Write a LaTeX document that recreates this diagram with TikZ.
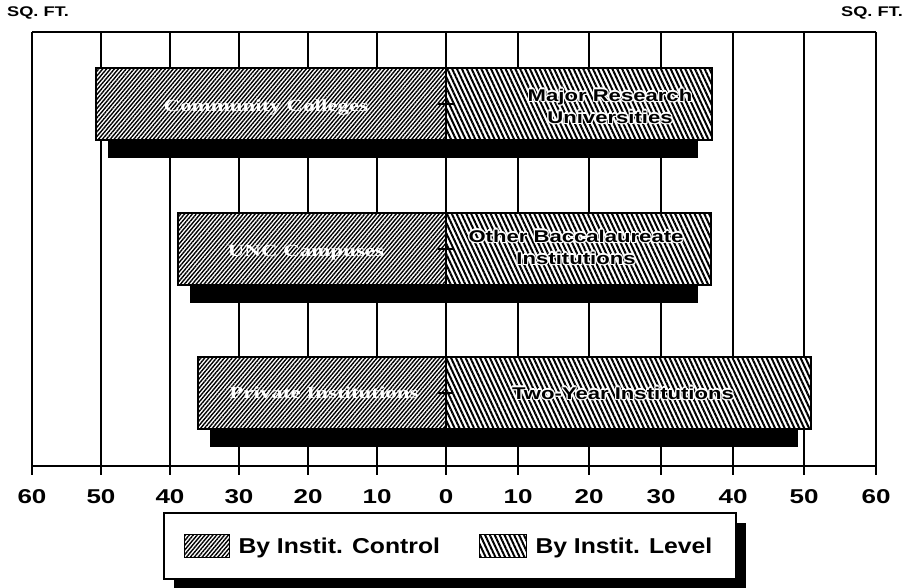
\documentclass[tikz,border=0pt]{standalone}
\usepackage{fontspec}
\usepackage{pdfrender}
\setmainfont{Liberation Sans}
\newfontfamily\axisfont{Liberation Sans}[FakeStretch=1.3]
\newfontfamily\keyfont{Liberation Sans}[FakeStretch=1.15]
\newfontfamily\campusfont{Liberation Serif}[FakeStretch=1.35]
\usetikzlibrary{patterns.meta}

% white letters with a black edge
\newcommand{\edgedtext}[1]{{\color{white}\textpdfrender{TextRenderingMode=FillStroke,
  LineWidth=0.8pt,StrokeColor=black,LineJoinStyle=1}{#1}}}
% black letters with a white ring
\newcommand{\ringat}[3]{\rlap{\kern#1\raisebox{#2}{#3}}}
\newcommand{\ringedtext}[1]{\leavevmode{\color{white}%
  \ringat{1.2pt}{0pt}{#1}\ringat{-1.2pt}{0pt}{#1}\ringat{0pt}{1.2pt}{#1}\ringat{0pt}{-1.2pt}{#1}%
  \ringat{1pt}{1pt}{#1}\ringat{-1pt}{1pt}{#1}\ringat{1pt}{-1pt}{#1}\ringat{-1pt}{-1pt}{#1}}#1}

\tikzset{
  grid line/.style={line width=1.3pt},
  control bar/.style={preaction={fill=white},
    pattern={Lines[angle=50,distance=3pt,line width=1.4pt]},draw,line width=1.4pt},
  level bar/.style={preaction={fill=white},
    pattern={Lines[angle=115,distance=4.4pt,line width=2pt]},draw,line width=1.4pt},
  shadow bar/.style={fill=black},
  value label/.style={font=\axisfont\bfseries\fontsize{20}{24}\selectfont},
  unit label/.style={font=\axisfont\bfseries\fontsize{14}{16}\selectfont},
  control label/.style={font=\campusfont\bfseries\fontsize{17}{22}\selectfont},
  level label/.style={font=\axisfont\bfseries\fontsize{17}{22}\selectfont,align=center},
  key label/.style={font=\keyfont\bfseries\fontsize{21.5}{24}\selectfont,anchor=west},
}

\begin{document}
\begin{tikzpicture}[x=1pt,y=-1pt]
    \fill[white] (0,0) rectangle (912,588);
    \useasboundingbox (0,0) rectangle (912,588);
    \node[unit label] (unitl) at (38,13) {SQ. FT.};
    \node[unit label] (unitr) at (872,13) {SQ. FT.};
    % grid and axis
    \draw[grid line] (32,32) -- (876,32);
    \draw[grid line] (32,466) -- (876,466);
    \draw[grid line] (32,32) -- (32,475);
    \node[value label] (l60) at (32,497) {60};
    \draw[grid line] (101,32) -- (101,475);
    \node[value label] (l50) at (101,497) {50};
    \draw[grid line] (170,32) -- (170,475);
    \node[value label] (l40) at (170,497) {40};
    \draw[grid line] (239,32) -- (239,475);
    \node[value label] (l30) at (239,497) {30};
    \draw[grid line] (308,32) -- (308,475);
    \node[value label] (l20) at (308,497) {20};
    \draw[grid line] (377,32) -- (377,475);
    \node[value label] (l10) at (377,497) {10};
    \draw[grid line] (446,32) -- (446,475);
    \node[value label] (zero) at (446,497) {0};
    \draw[grid line] (518,32) -- (518,475);
    \node[value label] (r10) at (518,497) {10};
    \draw[grid line] (589,32) -- (589,475);
    \node[value label] (r20) at (589,497) {20};
    \draw[grid line] (661,32) -- (661,475);
    \node[value label] (r30) at (661,497) {30};
    \draw[grid line] (733,32) -- (733,475);
    \node[value label] (r40) at (733,497) {40};
    \draw[grid line] (804,32) -- (804,475);
    \node[value label] (r50) at (804,497) {50};
    \draw[grid line] (876,32) -- (876,475);
    \node[value label] (r60) at (876,497) {60};
    % first pair of bars
    \fill[shadow bar] (108,140) rectangle (698,158);
    \draw[control bar] (96,68) rectangle (446,140);
    \draw[level bar] (446,68) rectangle (712,140);
    \draw[grid line] (438,104) -- (453,104);
    \node[control label] (community) at (266,107) {\edgedtext{Community Colleges}};
    \node[level label] (research) at (610,106) {\ringedtext{Major Research}\\\ringedtext{Universities}};
    % second pair of bars
    \fill[shadow bar] (190,285) rectangle (698,303);
    \draw[control bar] (178,213) rectangle (446,285);
    \draw[level bar] (446,213) rectangle (711,285);
    \draw[grid line] (438,249) -- (453,249);
    \node[control label] (unc) at (306,253) {\edgedtext{UNC Campuses}};
    \node[level label] (baccalaureate) at (576,247) {\ringedtext{Other Baccalaureate}\\\ringedtext{Institutions}};
    % third pair of bars
    \fill[shadow bar] (210,429) rectangle (798,447);
    \draw[control bar] (198,357) rectangle (446,429);
    \draw[level bar] (446,357) rectangle (811,429);
    \draw[grid line] (438,393) -- (453,393);
    \node[control label] (private) at (324,393) {\edgedtext{Private Institutions}};
    \node[level label] (twoyear) at (623,393) {\ringedtext{Two-Year Institutions}};
    % legend
    \fill[shadow bar] (174,523) rectangle (746,592);
    \draw[grid line,fill=white] (164,513) rectangle (736,579);
    \draw[control bar,line width=1pt] (184,534) rectangle (229,557);
    \node[key label] (keycontrol) at (235,548) {By Instit. Control};
    \draw[level bar,line width=1pt] (479,534) rectangle (526,557);
    \node[key label] (keylevel) at (532,548) {By Instit. Level};
\end{tikzpicture}
\end{document}
